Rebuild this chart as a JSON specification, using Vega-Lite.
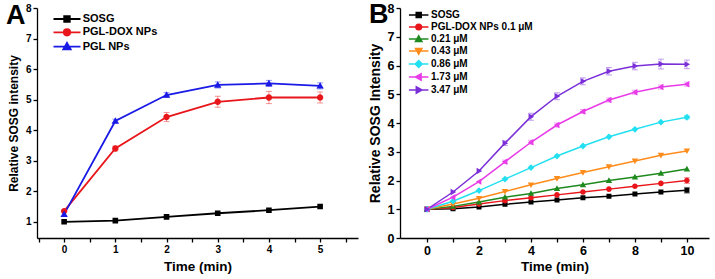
{
  "$schema": "https://vega.github.io/schema/vega-lite/v6.json",
  "background": "white",
  "padding": {"left": 6, "top": 1, "right": 5, "bottom": 3},
  "spacing": 10,
  "resolve": {"scale": {"color": "independent", "shape": "independent"}, "legend": {"color": "independent", "shape": "independent"}},
  "config": {
    "view": {"stroke": null},
    "font": "Liberation Sans",
    "axis": {
      "domainColor": "black", "tickColor": "black", "labelColor": "black", "titleColor": "black",
      "labelFont": "Liberation Sans", "titleFont": "Liberation Sans",
      "labelFontWeight": "bold", "titleFontWeight": "bold", "labelOverlap": false, "labelBound": false,
      "grid": false, "tickSize": 4, "domainWidth": 1.3, "tickWidth": 1.3, "labelPadding": 2
    },
    "legend": {"labelFont": "Liberation Sans", "labelFontWeight": "bold", "labelColor": "black", "symbolOpacity": 1}
  },
  "datasets": {
    "a": [
      {"series": "SOSG", "t": 0, "y": 1.0},
      {"series": "SOSG", "t": 1, "y": 1.04},
      {"series": "SOSG", "t": 2, "y": 1.16},
      {"series": "SOSG", "t": 3, "y": 1.28},
      {"series": "SOSG", "t": 4, "y": 1.38},
      {"series": "SOSG", "t": 5, "y": 1.5},
      {"series": "PGL-DOX NPs", "t": 0, "y": 1.35},
      {"series": "PGL-DOX NPs", "t": 1, "y": 3.4, "lo": 3.32, "hi": 3.48},
      {"series": "PGL-DOX NPs", "t": 2, "y": 4.43, "lo": 4.28, "hi": 4.58},
      {"series": "PGL-DOX NPs", "t": 3, "y": 4.93, "lo": 4.75, "hi": 5.11},
      {"series": "PGL-DOX NPs", "t": 4, "y": 5.07, "lo": 4.87, "hi": 5.27},
      {"series": "PGL-DOX NPs", "t": 5, "y": 5.07, "lo": 4.89, "hi": 5.25},
      {"series": "PGL NPs", "t": 0, "y": 1.25},
      {"series": "PGL NPs", "t": 1, "y": 4.3, "lo": 4.24, "hi": 4.36},
      {"series": "PGL NPs", "t": 2, "y": 5.15, "lo": 5.07, "hi": 5.23},
      {"series": "PGL NPs", "t": 3, "y": 5.48, "lo": 5.38, "hi": 5.58},
      {"series": "PGL NPs", "t": 4, "y": 5.53, "lo": 5.43, "hi": 5.63},
      {"series": "PGL NPs", "t": 5, "y": 5.45, "lo": 5.35, "hi": 5.55}
    ],
    "b": [
      {"series": "SOSG", "t": 0, "y": 1.0},
      {"series": "SOSG", "t": 1, "y": 1.02},
      {"series": "SOSG", "t": 2, "y": 1.08},
      {"series": "SOSG", "t": 3, "y": 1.17},
      {"series": "SOSG", "t": 4, "y": 1.25},
      {"series": "SOSG", "t": 5, "y": 1.32},
      {"series": "SOSG", "t": 6, "y": 1.4},
      {"series": "SOSG", "t": 7, "y": 1.45},
      {"series": "SOSG", "t": 8, "y": 1.53},
      {"series": "SOSG", "t": 9, "y": 1.6},
      {"series": "SOSG", "t": 10, "y": 1.66, "lo": 1.56, "hi": 1.76},
      {"series": "PGL-DOX NPs 0.1 μM", "t": 0, "y": 1.0},
      {"series": "PGL-DOX NPs 0.1 μM", "t": 1, "y": 1.06},
      {"series": "PGL-DOX NPs 0.1 μM", "t": 2, "y": 1.18},
      {"series": "PGL-DOX NPs 0.1 μM", "t": 3, "y": 1.3},
      {"series": "PGL-DOX NPs 0.1 μM", "t": 4, "y": 1.4},
      {"series": "PGL-DOX NPs 0.1 μM", "t": 5, "y": 1.5},
      {"series": "PGL-DOX NPs 0.1 μM", "t": 6, "y": 1.6},
      {"series": "PGL-DOX NPs 0.1 μM", "t": 7, "y": 1.7},
      {"series": "PGL-DOX NPs 0.1 μM", "t": 8, "y": 1.8},
      {"series": "PGL-DOX NPs 0.1 μM", "t": 9, "y": 1.9},
      {"series": "PGL-DOX NPs 0.1 μM", "t": 10, "y": 2.0, "lo": 1.9, "hi": 2.1},
      {"series": "0.21 μM", "t": 0, "y": 1.0},
      {"series": "0.21 μM", "t": 1, "y": 1.1},
      {"series": "0.21 μM", "t": 2, "y": 1.25},
      {"series": "0.21 μM", "t": 3, "y": 1.42},
      {"series": "0.21 μM", "t": 4, "y": 1.55},
      {"series": "0.21 μM", "t": 5, "y": 1.72},
      {"series": "0.21 μM", "t": 6, "y": 1.85},
      {"series": "0.21 μM", "t": 7, "y": 2.0},
      {"series": "0.21 μM", "t": 8, "y": 2.12},
      {"series": "0.21 μM", "t": 9, "y": 2.25},
      {"series": "0.21 μM", "t": 10, "y": 2.4},
      {"series": "0.43 μM", "t": 0, "y": 1.0},
      {"series": "0.43 μM", "t": 1, "y": 1.18},
      {"series": "0.43 μM", "t": 2, "y": 1.38},
      {"series": "0.43 μM", "t": 3, "y": 1.62},
      {"series": "0.43 μM", "t": 4, "y": 1.85},
      {"series": "0.43 μM", "t": 5, "y": 2.07},
      {"series": "0.43 μM", "t": 6, "y": 2.28},
      {"series": "0.43 μM", "t": 7, "y": 2.48},
      {"series": "0.43 μM", "t": 8, "y": 2.68},
      {"series": "0.43 μM", "t": 9, "y": 2.88},
      {"series": "0.43 μM", "t": 10, "y": 3.03},
      {"series": "0.86 μM", "t": 0, "y": 1.0},
      {"series": "0.86 μM", "t": 1, "y": 1.28},
      {"series": "0.86 μM", "t": 2, "y": 1.65},
      {"series": "0.86 μM", "t": 3, "y": 2.05},
      {"series": "0.86 μM", "t": 4, "y": 2.45},
      {"series": "0.86 μM", "t": 5, "y": 2.85},
      {"series": "0.86 μM", "t": 6, "y": 3.2},
      {"series": "0.86 μM", "t": 7, "y": 3.52},
      {"series": "0.86 μM", "t": 8, "y": 3.78},
      {"series": "0.86 μM", "t": 9, "y": 4.03},
      {"series": "0.86 μM", "t": 10, "y": 4.2, "lo": 4.14, "hi": 4.26},
      {"series": "1.73 μM", "t": 0, "y": 1.0},
      {"series": "1.73 μM", "t": 1, "y": 1.42},
      {"series": "1.73 μM", "t": 2, "y": 1.96},
      {"series": "1.73 μM", "t": 3, "y": 2.65, "lo": 2.59, "hi": 2.71},
      {"series": "1.73 μM", "t": 4, "y": 3.33, "lo": 3.26, "hi": 3.4},
      {"series": "1.73 μM", "t": 5, "y": 3.93, "lo": 3.86, "hi": 4.0},
      {"series": "1.73 μM", "t": 6, "y": 4.4, "lo": 4.33, "hi": 4.47},
      {"series": "1.73 μM", "t": 7, "y": 4.8, "lo": 4.73, "hi": 4.87},
      {"series": "1.73 μM", "t": 8, "y": 5.07, "lo": 5.0, "hi": 5.14},
      {"series": "1.73 μM", "t": 9, "y": 5.25, "lo": 5.18, "hi": 5.32},
      {"series": "1.73 μM", "t": 10, "y": 5.35, "lo": 5.28, "hi": 5.42},
      {"series": "3.47 μM", "t": 0, "y": 1.0},
      {"series": "3.47 μM", "t": 1, "y": 1.6},
      {"series": "3.47 μM", "t": 2, "y": 2.33},
      {"series": "3.47 μM", "t": 3, "y": 3.3, "lo": 3.22, "hi": 3.38},
      {"series": "3.47 μM", "t": 4, "y": 4.22, "lo": 4.1, "hi": 4.34},
      {"series": "3.47 μM", "t": 5, "y": 4.93, "lo": 4.81, "hi": 5.05},
      {"series": "3.47 μM", "t": 6, "y": 5.45, "lo": 5.33, "hi": 5.57},
      {"series": "3.47 μM", "t": 7, "y": 5.8, "lo": 5.67, "hi": 5.93},
      {"series": "3.47 μM", "t": 8, "y": 5.98, "lo": 5.85, "hi": 6.11},
      {"series": "3.47 μM", "t": 9, "y": 6.05, "lo": 5.88, "hi": 6.22},
      {"series": "3.47 μM", "t": 10, "y": 6.04, "lo": 5.89, "hi": 6.19}
    ]
  },
  "hconcat": [
    {
      "width": 321,
      "height": 230,
      "title": {"text": "A", "anchor": "start", "frame": "group", "fontSize": 27, "fontWeight": "bold", "color": "black", "dx": -31, "dy": 27, "offset": 0},
      "data": {"name": "a"},
      "encoding": {
        "x": {"field": "t", "type": "quantitative", "title": "Time (min)", "scale": {"domain": [-0.53, 5.74], "nice": false, "zero": false},
              "axis": {"values": [-0.5, 0, 0.5, 1, 1.5, 2, 2.5, 3, 3.5, 4, 4.5, 5, 5.5], "labelExpr": "datum.value % 1 === 0 ? format(datum.value, 'd') : ''",
                       "labelOverlap": false, "labelFontSize": 10, "titleFontSize": 13.5, "titlePadding": 5}},
        "color": {"field": "series", "type": "nominal",
                  "scale": {"domain": ["SOSG", "PGL-DOX NPs", "PGL NPs"], "range": ["#000000", "#E8161B", "#1A1AE6"]},
                  "legend": {"orient": "none", "legendX": 24, "legendY": 5, "title": null, "labelFontSize": 11, "symbolSize": 100, "rowPadding": -0.7, "labelOffset": 9.7, "symbolStrokeWidth": 1.8, "symbolOpacity": 1}}
      },
      "layer": [
        {
          "transform": [{"filter": "isValid(datum.lo)"}],
          "mark": {"type": "errorbar", "ticks": true, "size": 6, "thickness": 1, "opacity": 0.45},
          "encoding": {
            "y": {"field": "lo", "type": "quantitative", "title": "Relative SOSG intensity", "scale": {"domain": [0.47, 8], "nice": false, "zero": false},
                  "axis": {"values": [1, 2, 3, 4, 5, 6, 7, 8], "labelOverlap": false, "labelFontSize": 10, "titleFontSize": 12, "titlePadding": 5}},
            "y2": {"field": "hi"}
          }
        },
        {
          "mark": {"type": "line", "strokeWidth": 1.8},
          "encoding": {
            "y": {"field": "y", "type": "quantitative", "title": "Relative SOSG intensity", "scale": {"domain": [0.47, 8], "nice": false, "zero": false},
                  "axis": {"values": [1, 2, 3, 4, 5, 6, 7, 8], "labelOverlap": false, "labelFontSize": 10, "titleFontSize": 12, "titlePadding": 5}}
          }
        },
        {
          "mark": {"type": "point", "filled": true, "size": 100, "opacity": 1},
          "encoding": {
            "y": {"field": "y", "type": "quantitative", "title": "Relative SOSG intensity", "scale": {"domain": [0.47, 8], "nice": false, "zero": false},
                  "axis": {"values": [1, 2, 3, 4, 5, 6, 7, 8], "labelOverlap": false, "labelFontSize": 10, "titleFontSize": 12, "titlePadding": 5}},
            "shape": {"field": "series", "type": "nominal",
                      "scale": {"domain": ["SOSG", "PGL-DOX NPs", "PGL NPs"],
                                "range": ["M-2.7,0H2.7M-0.56,-0.56H0.56V0.56H-0.56Z", "M-2.7,0H2.7M-0.64,0A0.64,0.64 0 1,0 0.64,0A0.64,0.64 0 1,0 -0.64,0Z", "M-2.7,0H2.7M0,-0.74L0.74,0.54L-0.74,0.54Z"]}}
          }
        }
      ]
    },
    {
      "width": 309,
      "height": 230,
      "title": {"text": "B", "anchor": "start", "frame": "group", "fontSize": 27, "fontWeight": "bold", "color": "black", "dx": -31, "dy": 27, "offset": 0},
      "data": {"name": "b"},
      "encoding": {
        "x": {"field": "t", "type": "quantitative", "title": "Time (min)", "scale": {"domain": [-1.04, 10.85], "nice": false, "zero": false},
              "axis": {"values": [0, 1, 2, 3, 4, 5, 6, 7, 8, 9, 10], "labelExpr": "datum.value % 2 === 0 ? datum.label : ''",
                       "labelOverlap": false, "labelFontSize": 12.5, "titleFontSize": 13.5, "titlePadding": 3}},
        "color": {"field": "series", "type": "nominal",
                  "scale": {"domain": ["SOSG", "PGL-DOX NPs 0.1 μM", "0.21 μM", "0.43 μM", "0.86 μM", "1.73 μM", "3.47 μM"],
                            "range": ["#000000", "#E8161B", "#1E8A1E", "#FF8C1A", "#22E0F0", "#E83CE8", "#7A2FD8"]},
                  "legend": {"orient": "none", "legendX": 12.7, "legendY": 1, "title": null, "labelFontSize": 10, "symbolSize": 100, "rowPadding": -1.9, "labelOffset": 6.3, "symbolStrokeWidth": 1.5, "symbolOpacity": 1}}
      },
      "layer": [
        {
          "transform": [{"filter": "isValid(datum.lo)"}],
          "mark": {"type": "errorbar", "ticks": true, "size": 6, "thickness": 1, "opacity": 0.45},
          "encoding": {
            "y": {"field": "lo", "type": "quantitative", "title": "Relative SOSG Intensity", "scale": {"domain": [0, 8], "nice": false},
                  "axis": {"values": [0, 1, 2, 3, 4, 5, 6, 7, 8], "labelOverlap": false, "labelFontSize": 12.5, "titleFontSize": 14, "titlePadding": 5}},
            "y2": {"field": "hi"}
          }
        },
        {
          "mark": {"type": "line", "strokeWidth": 1.5},
          "encoding": {
            "y": {"field": "y", "type": "quantitative", "title": "Relative SOSG Intensity", "scale": {"domain": [0, 8], "nice": false},
                  "axis": {"values": [0, 1, 2, 3, 4, 5, 6, 7, 8], "labelOverlap": false, "labelFontSize": 12.5, "titleFontSize": 14, "titlePadding": 5}}
          }
        },
        {
          "mark": {"type": "point", "filled": true, "size": 100, "opacity": 1},
          "encoding": {
            "y": {"field": "y", "type": "quantitative", "title": "Relative SOSG Intensity", "scale": {"domain": [0, 8], "nice": false},
                  "axis": {"values": [0, 1, 2, 3, 4, 5, 6, 7, 8], "labelOverlap": false, "labelFontSize": 12.5, "titleFontSize": 14, "titlePadding": 5}},
            "shape": {"field": "series", "type": "nominal",
                      "scale": {"domain": ["SOSG", "PGL-DOX NPs 0.1 μM", "0.21 μM", "0.43 μM", "0.86 μM", "1.73 μM", "3.47 μM"],
                                "range": ["M-1.95,0H1.95M-0.5,-0.5H0.5V0.5H-0.5Z", "M-1.95,0H1.95M-0.56,0A0.56,0.56 0 1,0 0.56,0A0.56,0.56 0 1,0 -0.56,0Z", "M-1.95,0H1.95M0,-0.64L0.64,0.48L-0.64,0.48Z", "M-1.95,0H1.95M0,0.64L0.64,-0.48L-0.64,-0.48Z", "M-1.95,0H1.95M0,-0.68L0.68,0L0,0.68L-0.68,0Z", "M-1.95,0H1.95M-0.64,0L0.48,-0.64L0.48,0.64Z", "M-1.95,0H1.95M0.64,0L-0.48,-0.64L-0.48,0.64Z"]}}
          }
        }
      ]
    }
  ]
}
